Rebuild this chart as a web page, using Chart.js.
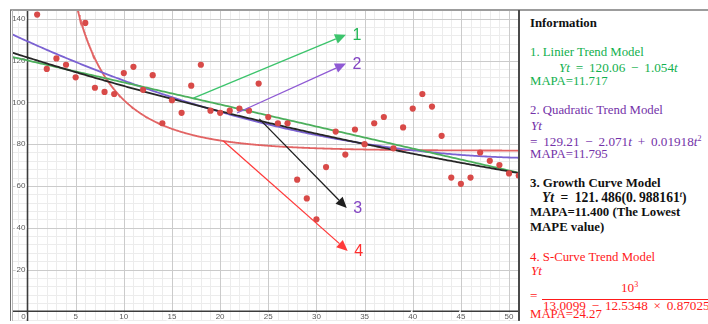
<!DOCTYPE html>
<html>
<head>
<meta charset="utf-8">
<script src="https://cdn.jsdelivr.net/npm/chart.js@4/dist/chart.umd.min.js"></script>
<style>
  html, body { margin: 0; padding: 0; background: #fff; }
  #wrap { position: relative; width: 708px; height: 324px; overflow: hidden; background: #fff; }
  #plot { position: absolute; left: 0; top: 0; }
  #panel { position: absolute; left: 520px; top: 12px; width: 188px; height: 312px; background: #fff; }
  .ln { position: absolute; white-space: nowrap; line-height: 13px;
        font-family: "Liberation Serif", "Times New Roman", serif; font-size: 12.8px; }
  .b { font-weight: bold; }
  .m { word-spacing: 2.5px; font-size: 13.2px; }
  .g { color: #12b04e; }
  .p { color: #7432a8; }
  .r { color: #ff1a1a; }
  .k { color: #111; }
  sup { font-size: 8px; line-height: 0; vertical-align: 5px; }
  #bar { position: absolute; left: 542px; top: 299px; width: 170px; height: 1px; background: #ff1a1a; }
</style>
</head>
<body>
<div id="wrap">
  <canvas id="plot" width="708" height="324"></canvas>
  <div id="panel"></div>
  <div class="ln b k" style="left:530px;top:17px">Information</div>

  <div class="ln g" style="left:530px;top:45.5px">1. Linier Trend Model</div>
  <div class="ln g m" style="left:559px;top:61px"><i>Yt</i> = 120.06 − 1.054<i>t</i></div>
  <div class="ln g" style="left:530px;top:75px">MAPA=11.717</div>

  <div class="ln p" style="left:530px;top:103.5px">2. Quadratic Trend Model</div>
  <div class="ln p m" style="left:531px;top:119px"><i>Yt</i></div>
  <div class="ln p m" style="left:530px;top:134.5px">= 129.21 − 2.071<i>t</i> + 0.01918<i>t</i><sup>2</sup></div>
  <div class="ln p" style="left:530px;top:147.5px">MAPA=11.795</div>

  <div class="ln b k" style="left:530px;top:177.3px">3. Growth Curve Model</div>
  <div class="ln b k" style="left:542px;top:191px;font-size:13.6px;word-spacing:3px"><i>Yt</i> = 121.&thinsp;486(0.&thinsp;988161<sup><i>t</i></sup>)</div>
  <div class="ln b k" style="left:530px;top:206px">MAPA=11.400 (The Lowest</div>
  <div class="ln b k" style="left:530px;top:220.5px">MAPE value)</div>

  <div class="ln r" style="left:530px;top:250.5px">4. S-Curve Trend Model</div>
  <div class="ln r m" style="left:531px;top:264px"><i>Yt</i></div>
  <div class="ln r m" style="left:621px;top:280.5px">10<sup>3</sup></div>
  <div class="ln r m" style="left:530px;top:289px">=</div>
  <div id="bar"></div>
  <div class="ln r m" style="left:543px;top:298.5px">13.0099 − 12.5348 × 0.870251<sup><i>t</i></sup></div>
  <div class="ln r" style="left:530px;top:308.3px">MAPA=24.27</div>
</div>

<script>
// Observed series (period t, value)
const periods = [1, 2, 3, 4, 5, 6, 7, 8, 9, 10, 11, 12, 13, 14, 15, 16, 17, 18, 19, 20,
                 21, 22, 23, 24, 25, 26, 27, 28, 29, 30, 31, 32, 33, 34, 35, 36, 37, 38, 39, 40,
                 41, 42, 43, 44, 45, 46, 47, 48, 49, 50, 51];
const observed = [142, 116, 121, 118, 112, 138, 107, 105, 104, 114, 117, 106, 113, 90, 101, 95, 108, 118, 96, 95,
                  96, 97, 96, 109, 93, 90, 90, 63, 54, 44, 69, 86, 75, 87, 80, 90, 93, 78, 88, 97,
                  104, 98, 84, 64, 61, 64, 76, 72, 70, 66, 65];

// Fitted model coefficients, as stated in the information panel
const linearCoef = [120.06, -1.054];            // a + b t
const quadraticCoef = [129.21, -2.071, 0.01918]; // a + b t + c t^2
const growthCoef = [121.486, 0.988161];         // a * b^t
const sCurveCoef = [1000, 13.0099, 12.5348, 0.870251]; // k / (a - b * c^t)

// Axis tick labels
const xTickLabels = [5, 10, 15, 20, 25, 30, 35, 40, 45, 50];
const yTickLabels = [20, 40, 60, 80, 100, 120, 140];

// Pointer arrows to the model numbers: [t, y] of tail and tip
const arrowLabels = ['1', '2', '3', '4'];
const arrowFrom = [[17.22, 102.0], [21.75, 94.9], [24.07, 92.1], [20.33, 81.5]];
const arrowTo = [[33.07, 132.4], [33.07, 118.6], [33.15, 49.4], [33.25, 28.9]];

const linearFn = t => linearCoef[0] + linearCoef[1] * t;
const quadraticFn = t => quadraticCoef[0] + quadraticCoef[1] * t + quadraticCoef[2] * t * t;
const growthFn = t => growthCoef[0] * Math.pow(growthCoef[1], t);
const sCurveFn = t => sCurveCoef[0] / (sCurveCoef[1] - sCurveCoef[2] * Math.pow(sCurveCoef[3], t));

function sampleModel(fn, from, to, step) {
  const pts = [];
  for (let t = from; t <= to + 1e-9; t += step) pts.push({ x: t, y: fn(t) });
  return pts;
}

const X_MIN = -1.61, X_MAX = 50.93, Y_MIN = -4.6, Y_MAX = 144.2;

const arrowStyle = [
  { line: '#3cc46c', text: '#22b655' },
  { line: '#8f5ad4', text: '#8446c4' },
  { line: '#1e1e1e', text: '#8446c4' },
  { line: '#ff3a3a', text: '#ff2e2e' }
];

// Grid, axes, tick labels and the outer frame
const gridPlugin = {
  id: 'grid',
  beforeDatasetsDraw(chart) {
    const { ctx, chartArea: a, scales: { x, y } } = chart;
    ctx.save();
    ctx.beginPath();
    ctx.rect(a.left, a.top, a.right - a.left, a.bottom - a.top);
    ctx.clip();
    const vline = (v) => { const p = Math.round(x.getPixelForValue(v)) + 0.5; ctx.beginPath(); ctx.moveTo(p, a.top); ctx.lineTo(p, a.bottom); ctx.stroke(); };
    const hline = (v) => { const p = Math.round(y.getPixelForValue(v)) + 0.5; ctx.beginPath(); ctx.moveTo(a.left, p); ctx.lineTo(a.right, p); ctx.stroke(); };
    ctx.lineWidth = 1;
    ctx.strokeStyle = '#ececec';
    for (let v = Math.ceil(X_MIN); v <= X_MAX; v++) if (v % 5 !== 0) vline(v);
    for (let v = -4; v <= Y_MAX; v += 4) if (v % 20 !== 0) hline(v);
    ctx.strokeStyle = '#cbcbcb';
    for (let v = 5; v <= X_MAX; v += 5) vline(v);
    for (let v = 20; v <= Y_MAX; v += 20) hline(v);
    // axes
    ctx.strokeStyle = '#3c3c3c';
    ctx.lineWidth = 1.6;
    const x0 = x.getPixelForValue(0), y0 = y.getPixelForValue(0);
    ctx.beginPath(); ctx.moveTo(x0, a.top); ctx.lineTo(x0, a.bottom); ctx.stroke();
    ctx.beginPath(); ctx.moveTo(a.left, y0); ctx.lineTo(a.right, y0); ctx.stroke();

    // tick labels with a white halo
    ctx.font = '8px "Liberation Sans", Arial, sans-serif';
    ctx.lineWidth = 3;
    ctx.strokeStyle = '#fff';
    ctx.fillStyle = '#5a5a5a';
    ctx.textBaseline = 'middle';
    ctx.textAlign = 'right';
    yTickLabels.forEach(v => {
      const py = y.getPixelForValue(v);
      ctx.strokeText(String(v), x0 - 2, py);
      ctx.fillText(String(v), x0 - 2, py);
    });
    ctx.textAlign = 'center';
    const ly = y0 + 6;
    xTickLabels.forEach(v => {
      const px = x.getPixelForValue(v);
      ctx.strokeText(String(v), px, ly);
      ctx.fillText(String(v), px, ly);
    });
    ctx.strokeText('0', x0 - 4, ly);
    ctx.fillText('0', x0 - 4, ly);
    ctx.restore();
  },
  afterDraw(chart) {
    const { ctx, chartArea: a } = chart;
    ctx.save();
    ctx.fillStyle = '#9c9c9c';
    ctx.fillRect(a.left - 2, a.top - 1, chart.width - a.left + 2, 2);
    ctx.fillStyle = '#707070';
    ctx.fillRect(a.left - 2, a.top, 1, a.bottom - a.top);
    ctx.fillStyle = '#b5b5b5';
    ctx.fillRect(a.left, a.top, 1, a.bottom - a.top);
    ctx.fillStyle = '#4a4a4a';
    ctx.fillRect(a.right, a.top, 2, a.bottom - a.top);
    ctx.restore();
  }
};

// Arrows pointing at the numbered model descriptions
const arrowPlugin = {
  id: 'arrows',
  afterDatasetsDraw(chart) {
    const { ctx, scales: { x, y } } = chart;
    ctx.save();
    arrowLabels.forEach((label, i) => {
      const x1 = x.getPixelForValue(arrowFrom[i][0]), y1 = y.getPixelForValue(arrowFrom[i][1]);
      const x2 = x.getPixelForValue(arrowTo[i][0]), y2 = y.getPixelForValue(arrowTo[i][1]);
      const ang = Math.atan2(y2 - y1, x2 - x1);
      const len = 11, half = 5;
      const bx = x2 - len * Math.cos(ang), by = y2 - len * Math.sin(ang);
      ctx.strokeStyle = arrowStyle[i].line;
      ctx.fillStyle = arrowStyle[i].line;
      ctx.lineWidth = 1.3;
      ctx.beginPath(); ctx.moveTo(x1, y1); ctx.lineTo(bx, by); ctx.stroke();
      ctx.beginPath();
      ctx.moveTo(x2, y2);
      ctx.lineTo(bx + half * Math.sin(ang), by - half * Math.cos(ang));
      ctx.lineTo(bx - half * Math.sin(ang), by + half * Math.cos(ang));
      ctx.closePath(); ctx.fill();
      ctx.font = '16px "Liberation Sans", Arial, sans-serif';
      ctx.fillStyle = arrowStyle[i].text;
      ctx.textAlign = 'center';
      ctx.textBaseline = 'middle';
      ctx.fillText(label, x2 + 11, y2 + 1);
    });
    ctx.restore();
  }
};

const curve = (data, color) => ({
  data, showLine: true, borderColor: color, borderWidth: 1.8,
  pointRadius: 0, pointHoverRadius: 0, tension: 0, fill: false
});

new Chart(document.getElementById('plot'), {
  type: 'scatter',
  data: {
    datasets: [
      {
        data: periods.map((t, i) => ({ x: t, y: observed[i] })),
        backgroundColor: '#d84a48', borderColor: '#d84a48', borderWidth: 0,
        pointRadius: 3.1, pointHoverRadius: 3.1
      },
      curve(sampleModel(growthFn, -1.8, 51.2, 0.2), '#262626'),
      curve(sampleModel(linearFn, -1.8, 51.2, 0.2), '#4caf5c'),
      curve(sampleModel(quadraticFn, -1.8, 51.2, 0.2), '#7b62d2'),
      curve(sampleModel(sCurveFn, 4, 51.2, 0.05), '#e26464')
    ]
  },
  options: {
    responsive: false,
    animation: false,
    devicePixelRatio: 1,
    layout: { padding: { left: 12, top: 10, right: 190, bottom: 0 } },
    plugins: { legend: { display: false }, tooltip: { enabled: false } },
    scales: {
      x: { type: 'linear', min: X_MIN, max: X_MAX, display: false },
      y: { type: 'linear', min: Y_MIN, max: Y_MAX, display: false }
    }
  },
  plugins: [gridPlugin, arrowPlugin]
});
</script>
</body>
</html>
